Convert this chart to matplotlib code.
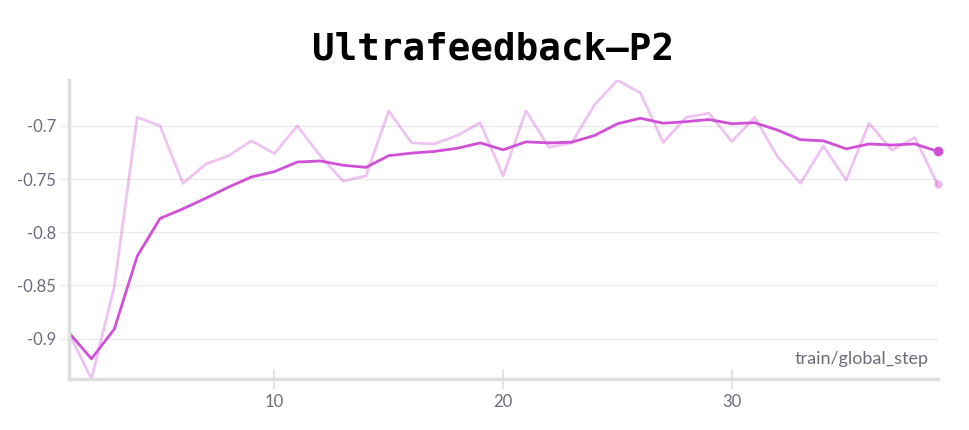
import matplotlib
matplotlib.use("Agg")
from matplotlib import pyplot as plt
from matplotlib.ticker import FixedLocator

# train/global_step
steps = list(range(1, 40))

# raw reward values (faint line)
raw = [-0.894, -0.938, -0.851, -0.692, -0.700, -0.754, -0.736, -0.728, -0.714, -0.726,
       -0.700, -0.728, -0.752, -0.747, -0.686, -0.716, -0.717, -0.709, -0.697, -0.747,
       -0.686, -0.720, -0.716, -0.680, -0.657, -0.669, -0.7156, -0.692, -0.688, -0.7147,
       -0.692, -0.729, -0.754, -0.719, -0.751, -0.6975, -0.723, -0.711, -0.755]

# smoothed values (solid line)
smooth = [-0.894, -0.919, -0.891, -0.8225, -0.787, -0.778, -0.768, -0.7575, -0.748, -0.743,
          -0.734, -0.733, -0.737, -0.739, -0.728, -0.7256, -0.724, -0.721, -0.716, -0.7225,
          -0.715, -0.716, -0.7153, -0.709, -0.698, -0.6928, -0.6975, -0.696, -0.694, -0.698,
          -0.697, -0.704, -0.713, -0.714, -0.7216, -0.717, -0.718, -0.717, -0.724]

yticks = [-0.9, -0.85, -0.8, -0.75, -0.7]
ytick_labels = ["-0.9", "-0.85", "-0.8", "-0.75", "-0.7"]
xticks = [10, 20, 30]

title = "Ultrafeedback\u2013P2"
xlabel = "train/global_step"

line_color = "#d050d8"
grid_color = "#ebebeb"
spine_color = "#dedede"
text_color = "#6b6b7b"

plt.rcParams['font.family'] = ['Lato', 'DejaVu Sans']

fig = plt.figure(figsize=(9.7, 4.3), dpi=100)
ax = fig.add_axes([0.0707, 0.1186, 0.896, 0.695])

ax.plot(steps, raw, color=line_color, alpha=0.35, lw=2)
ax.plot(steps, smooth, color=line_color, lw=2)
ax.plot(steps[-1], raw[-1], 'o', color=line_color, alpha=0.4, ms=6, mec='none', clip_on=False)
ax.plot(steps[-1], smooth[-1], 'o', color=line_color, ms=7, mec='none', clip_on=False)

ax.set_xlim(1, 39)
ax.set_ylim(min(raw), max(raw))

ax.yaxis.set_major_locator(FixedLocator(yticks))
ax.set_yticklabels(ytick_labels)
ax.xaxis.set_major_locator(FixedLocator(xticks))

ax.grid(axis='y', color=grid_color, lw=1)
ax.set_axisbelow(True)

for side in ['top', 'right']:
    ax.spines[side].set_visible(False)
for side in ['left', 'bottom']:
    ax.spines[side].set_color(spine_color)
    ax.spines[side].set_linewidth(2.5)

ax.tick_params(axis='y', length=7, width=1, color=grid_color, labelsize=12,
               labelcolor=text_color, pad=2)
ax.tick_params(axis='x', direction='inout', length=14, width=1.2, color=spine_color,
               labelsize=12, labelcolor=text_color, pad=4)

ax.text(0.99, 0.04, xlabel, transform=ax.transAxes, ha='right', va='bottom',
        fontsize=13, color=text_color)

fig.text(0.508, 0.885, title, ha='center', va='center', fontsize=27,
         fontweight='bold', family='DejaVu Sans Mono', color='black')

fig.savefig("out.png", dpi=100)
